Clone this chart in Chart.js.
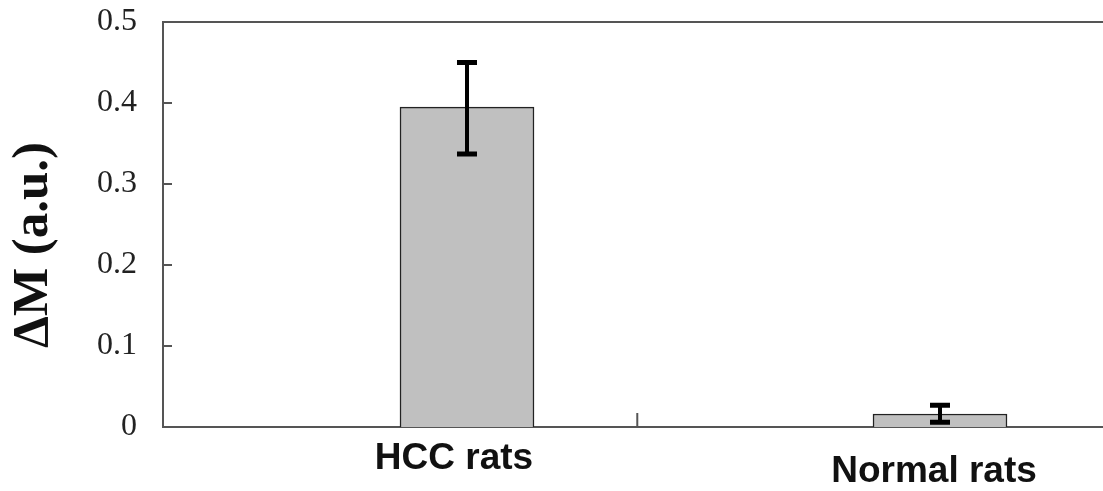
<!DOCTYPE html>
<html>
<head>
<meta charset="utf-8">
<script src="https://cdn.jsdelivr.net/npm/chart.js@4/dist/chart.umd.min.js"></script>
<style>
  html, body { margin: 0; padding: 0; background: #fff; }
  #wrap { width: 1103px; height: 491px; }
</style>
</head>
<body>
<div id="wrap"><canvas id="deltaChart"></canvas></div>
<script>
"use strict";

// values
var groups = ["HCC rats", "Normal rats"];
var deltaM = [0.395, 0.016];
var errLow = [0.337, 0.006];
var errHigh = [0.450, 0.027];
var yTicks = [0, 0.1, 0.2, 0.3, 0.4, 0.5];
var yTitle = "ΔM (a.u.)";

// label placement under the axis (the two names sit at different heights)
var labelDrop = [42, 55];
var labelShift = [-13, -6];

var decorations = {
  id: "decorations",
  afterDraw(chart) {
    var ctx = chart.ctx;
    var area = chart.chartArea;
    var xs = chart.scales.x;
    var ys = chart.scales.y;
    ctx.save();

    // frame line on top
    ctx.strokeStyle = "#555";
    ctx.lineWidth = 2;
    ctx.beginPath();
    ctx.moveTo(area.left, area.top);
    ctx.lineTo(area.right, area.top);
    ctx.stroke();

    // tick marks pointing inwards
    yTicks.forEach(function (v) {
      var py = ys.getPixelForValue(v);
      ctx.beginPath();
      ctx.moveTo(area.left, py);
      ctx.lineTo(area.left + 9, py);
      ctx.stroke();
    });
    var px = xs.getPixelForValue(0.36);
    ctx.beginPath();
    ctx.moveTo(px, area.bottom);
    ctx.lineTo(px, area.bottom - 14);
    ctx.stroke();

    // error bars
    ctx.strokeStyle = "#000";
    groups.forEach(function (g, i) {
      var cx = xs.getPixelForValue(i);
      var top = ys.getPixelForValue(errHigh[i]);
      var bot = ys.getPixelForValue(errLow[i]);
      ctx.lineWidth = 4;
      ctx.beginPath();
      ctx.moveTo(cx, top);
      ctx.lineTo(cx, bot);
      ctx.stroke();
      ctx.lineWidth = 5;
      ctx.beginPath();
      ctx.moveTo(cx - 10, top);
      ctx.lineTo(cx + 10, top);
      ctx.moveTo(cx - 10, bot);
      ctx.lineTo(cx + 10, bot);
      ctx.stroke();
    });

    // category names
    ctx.fillStyle = "#111";
    ctx.font = "bold 37px 'Liberation Sans', Arial, sans-serif";
    ctx.textAlign = "center";
    ctx.textBaseline = "alphabetic";
    groups.forEach(function (g, i) {
      ctx.fillText(g, xs.getPixelForValue(i) + labelShift[i], area.bottom + labelDrop[i]);
    });

    // axis title, rotated
    ctx.translate(34, 245);
    ctx.rotate(-Math.PI / 2);
    ctx.font = "bold 51px 'Liberation Serif', 'Times New Roman', serif";
    ctx.textBaseline = "middle";
    ctx.fillText(yTitle, 0, 0);
    ctx.restore();
  }
};

var ctx = document.getElementById("deltaChart").getContext("2d");
var deltaChart = new Chart(ctx, {
  type: "bar",
  data: {
    datasets: [{
      data: deltaM.map(function (v, i) { return { x: i, y: v }; }),
      backgroundColor: "#c0c0c0",
      borderColor: "#222",
      borderWidth: 1.5,
      barThickness: 134
    }]
  },
  options: {
    responsive: true,
    maintainAspectRatio: false,
    animation: false,
    layout: { autoPadding: false, padding: { top: 22, right: 0, left: 0, bottom: 0 } },
    plugins: {
      legend: { display: false },
      tooltip: { enabled: false }
    },
    scales: {
      x: {
        type: "linear",
        offset: false,
        min: -0.6427,
        max: 1.3446,
        ticks: { display: false },
        grid: { display: false },
        border: { display: true, color: "#555", width: 2 },
        afterFit: function (scale) {
          scale.height = 64;
          scale.paddingLeft = 0;
          scale.paddingRight = 0;
        }
      },
      y: {
        min: 0,
        max: 0.5,
        afterBuildTicks: function (scale) {
          scale.ticks = yTicks.map(function (v) { return { value: v }; });
        },
        ticks: {
          padding: 26,
          color: "#222",
          font: { family: "'Liberation Serif', 'Times New Roman', serif", size: 32 },
          callback: function (v) { return v === 0 ? "0" : v.toFixed(1); }
        },
        grid: { display: false, drawTicks: false },
        border: { display: true, color: "#555", width: 2 },
        afterFit: function (scale) {
          scale.width = 163;
          scale.paddingTop = 0;
          scale.paddingBottom = 0;
        }
      }
    }
  },
  plugins: [decorations]
});
</script>
</body>
</html>
